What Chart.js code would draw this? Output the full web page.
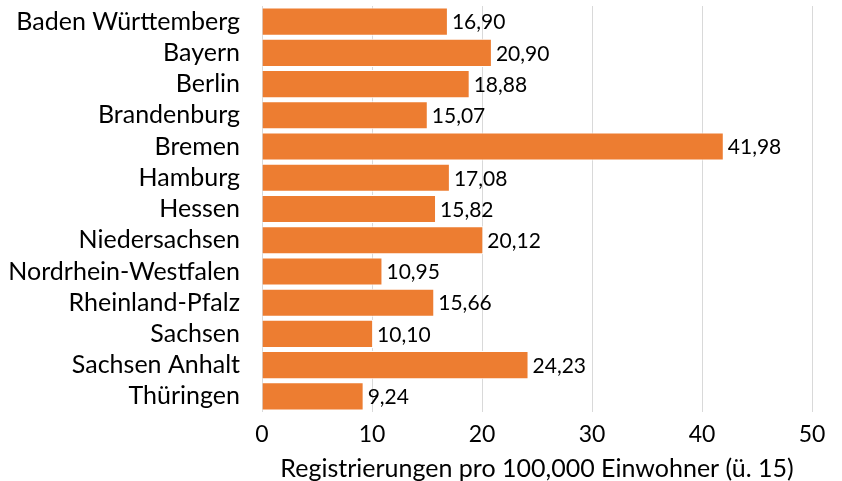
<!DOCTYPE html>
<html>
<head>
<meta charset="utf-8">
<script src="https://cdn.jsdelivr.net/npm/chart.js@4"></script>
<style>
  html, body { margin: 0; padding: 0; background: #fff; }
  #wrap { width: 842px; height: 481px; }
</style>
</head>
<body>
<div id="wrap"><canvas id="regChart" width="842" height="481"></canvas></div>
<script>
const laender = ['Baden Württemberg', 'Bayern', 'Berlin', 'Brandenburg', 'Bremen', 'Hamburg', 'Hessen',
    'Niedersachsen', 'Nordrhein-Westfalen', 'Rheinland-Pfalz', 'Sachsen', 'Sachsen Anhalt', 'Thüringen'];
const registrierungen = [16.90, 20.90, 18.88, 15.07, 41.98, 17.08, 15.82, 20.12, 10.95, 15.66, 10.10, 24.23, 9.24];
const xTicks = [0, 10, 20, 30, 40, 50];
const achsenTitel = 'Registrierungen pro 100,000 Einwohner (ü. 15)';

const schrift = 'Lato, "Open Sans", sans-serif';

// Werte rechts neben die Balken schreiben
const wertLabels = {
    id: 'wertLabels',
    afterDatasetsDraw(chart) {
        const ctx = chart.ctx;
        const meta = chart.getDatasetMeta(0);
        ctx.save();
        ctx.font = '21px ' + schrift;
        ctx.fillStyle = '#000';
        ctx.textBaseline = 'middle';
        ctx.textAlign = 'left';
        meta.data.forEach((bar, i) => {
            const txt = registrierungen[i].toFixed(2).replace('.', ',');
            ctx.fillText(txt, bar.x + 4, bar.y + 1);
        });
        ctx.restore();
    }
};

const ctx = document.getElementById('regChart').getContext('2d');
new Chart(ctx, {
    type: 'bar',
    data: {
        labels: laender,
        datasets: [{
            data: registrierungen,
            backgroundColor: '#ED7D31',
            borderColor: '#ffffff',
            borderWidth: 1,
            barPercentage: 0.9,
            categoryPercentage: 1.0
        }]
    },
    options: {
        indexAxis: 'y',
        responsive: false,
        animation: false,
        layout: { padding: { top: 6, right: 30, bottom: 0, left: 0 } },
        plugins: {
            legend: { display: false },
            tooltip: { enabled: false }
        },
        scales: {
            x: {
                min: 0,
                max: 50,
                afterBuildTicks: axis => { axis.ticks = xTicks.map(v => ({ value: v })); },
                grid: { color: '#d9d9d9', drawTicks: false, lineWidth: 1 },
                border: { display: false },
                ticks: { color: '#000', font: { family: schrift, size: 23 }, padding: 9 },
                title: {
                    display: true,
                    text: achsenTitel,
                    color: '#000',
                    font: { family: schrift, size: 25, lineHeight: 1.0 },
                    padding: { top: 0, bottom: 0 }
                },
                afterFit: axis => { axis.height = 69; axis.paddingLeft = 0; axis.paddingRight = 0; }
            },
            y: {
                grid: { display: false },
                border: { display: false },
                ticks: { color: '#000', font: { family: schrift, size: 25 }, padding: 14, autoSkip: false },
                afterFit: axis => { axis.width = 262; axis.paddingTop = 0; axis.paddingBottom = 0; }
            }
        }
    },
    plugins: [wertLabels]
});
</script>
</body>
</html>
